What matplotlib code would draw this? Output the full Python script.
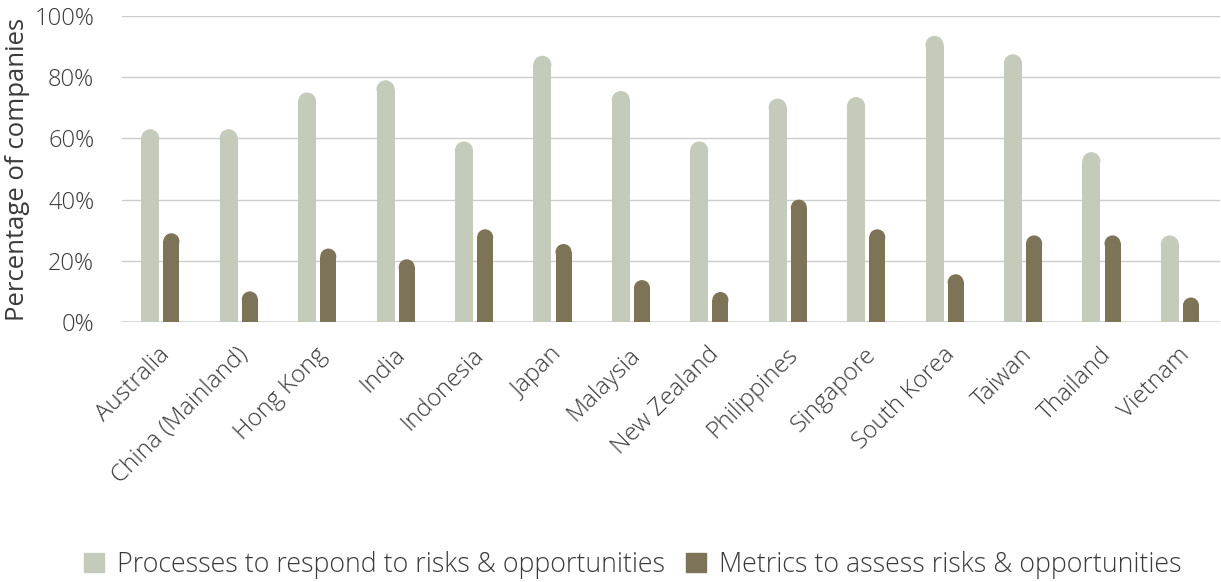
import matplotlib.pyplot as plt
from matplotlib.patches import Ellipse
import numpy as np

plt.rcParams['font.family'] = ['Open Sans', 'DejaVu Sans']
plt.rcParams['font.weight'] = 'light'

countries = ['Australia', 'China (Mainland)', 'Hong Kong', 'India', 'Indonesia',
             'Japan', 'Malaysia', 'New Zealand', 'Philippines', 'Singapore',
             'South Korea', 'Taiwan', 'Thailand', 'Vietnam']
processes = [63, 63, 75, 79, 59, 87, 75.5, 59, 73, 73.5, 93.5, 87.5, 55.5, 28.3]
metrics = [29, 10, 24, 20.5, 30.3, 25.5, 13.7, 9.8, 40, 30.3, 15.6, 28.3, 28.3, 8]
yticks = [0, 20, 40, 60, 80, 100]

LIGHT = '#c5cbbb'
DARK = '#7d7457'
TEXT = '#3a3a3a'

W, H = 1221, 582
fig = plt.figure(figsize=(W / 100, H / 100), dpi=100)
ax = fig.add_axes([122 / W, 260 / H, 1098 / W, 306 / H])

n = len(countries)
x = np.arange(n)
ax.set_xlim(-0.5, n - 0.5)
ax.set_ylim(0, 100)

# pixel scales so the round tops come out as half circles
px_x = 1098 / n
px_y = 306 / 100.0


def rounded_bars(xs, vals, width, color):
    r_y = (width * px_x / 2) / px_y
    for xi, v in zip(xs, vals):
        ax.bar(xi, v - r_y, width=width, color=color, zorder=3, linewidth=0)
        ax.add_patch(Ellipse((xi, v - r_y), width, 2 * r_y, color=color,
                             zorder=3, linewidth=0))


rounded_bars(x - 0.14, processes, 0.23, LIGHT)
rounded_bars(x + 0.13, metrics, 0.205, DARK)

for t in yticks:
    ax.axhline(t, color='#d4d4d4' if t == 0 else '#cccccc',
               lw=2 if t == 0 else 1, zorder=1)

for s in ax.spines.values():
    s.set_visible(False)

ax.set_yticks(yticks)
ax.set_yticklabels([f'{t}%' for t in yticks], fontsize=17, color=TEXT)
ax.tick_params(axis='y', length=0, pad=20)
ax.set_xticks(x - 0.04)
ax.set_xticklabels(countries, rotation=45, ha='right', va='top',
                   rotation_mode='anchor', fontsize=17.5, color=TEXT)
ax.tick_params(axis='x', length=0, pad=15)
ax.set_ylabel('Percentage of companies', fontsize=18.5, color=TEXT)
ax.yaxis.set_label_coords(-92 / 1098, 0.5)

handles = [plt.Rectangle((0, 0), 1, 1, color=LIGHT),
           plt.Rectangle((0, 0), 1, 1, color=DARK)]
fig.legend(handles, ['Processes to respond to risks & opportunities',
                     'Metrics to assess risks & opportunities'],
           loc='center', bbox_to_anchor=(633 / W, 1 - 565 / H), ncol=2,
           frameon=False, fontsize=19.3, handlelength=0.72, handleheight=0.72,
           handletextpad=0.5, columnspacing=0.8, labelcolor=TEXT)

fig.savefig('out.png', dpi=100)
